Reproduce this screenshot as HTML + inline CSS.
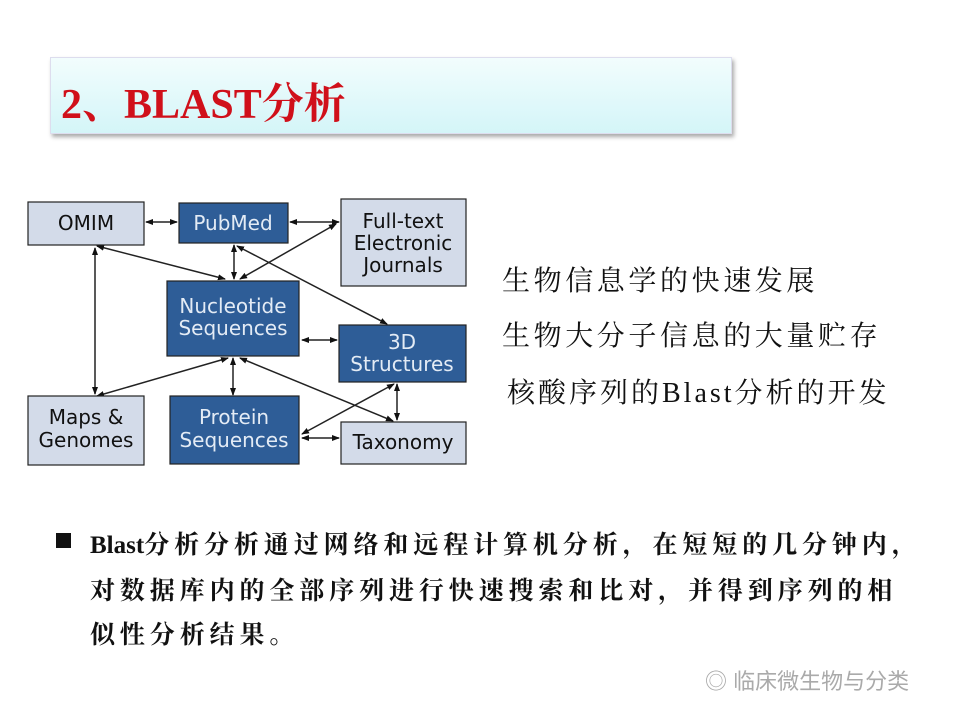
<!DOCTYPE html>
<html><head><meta charset="utf-8"><style>
body{margin:0;width:960px;height:720px;background:#fff;position:relative;overflow:hidden;font-family:"Liberation Serif","Noto Serif CJK SC",serif}
.title{position:absolute;left:50px;top:57px;width:680px;height:75px;background:linear-gradient(#f2fdfd,#d4f5f8);box-shadow:2px 3px 4px #aaa;border:1px solid #dde}
.title span{position:absolute;left:10px;top:13px;font-size:42px;font-weight:bold;color:#d0101a;white-space:nowrap}
.r{position:absolute;font-size:28px;letter-spacing:3.6px;color:#111;white-space:nowrap}
.b{position:absolute;left:90px;font-size:25px;font-weight:bold;letter-spacing:4.9px;color:#111;white-space:nowrap}
.b i{font-style:normal;letter-spacing:0}
</style></head><body>
<div class="title"><span>2、BLAST分析</span></div>
<svg style="position:absolute;left:0;top:0" width="960" height="720">
<defs><marker id="a" markerWidth="8" markerHeight="8" refX="7" refY="4" orient="auto-start-reverse" markerUnits="userSpaceOnUse"><path d="M0,1 L8,4 L0,7z" fill="#111"/></marker></defs>
<g stroke="#222" stroke-width="1.5" marker-start="url(#a)" marker-end="url(#a)">
<line x1="146" y1="222" x2="177" y2="222"/>
<line x1="290" y1="222" x2="339" y2="222"/>
<line x1="234" y1="245" x2="234" y2="279"/>
<line x1="95" y1="248" x2="95" y2="394"/>
<line x1="97" y1="246" x2="225" y2="279"/>
<line x1="240" y1="279" x2="336" y2="224"/>
<line x1="237" y1="246" x2="387" y2="324"/>
<line x1="302" y1="340" x2="337" y2="340"/>
<line x1="228" y1="358" x2="97" y2="396"/>
<line x1="233" y1="358" x2="233" y2="395"/>
<line x1="240" y1="358" x2="393" y2="421"/>
<line x1="394" y1="384" x2="302" y2="434"/>
<line x1="397" y1="384" x2="397" y2="420"/>
<line x1="302" y1="438" x2="339" y2="438"/>
</g>
<g stroke="#222" stroke-width="1.2" font-family="DejaVu Sans,sans-serif" font-size="20" text-anchor="middle">
<rect x="28" y="202" width="116" height="43" fill="#d3dbe9"/>
<text x="86" y="230" fill="#111" stroke="none">OMIM</text>
<rect x="179" y="203" width="109" height="40" fill="#2e5d97"/>
<text x="233" y="230" fill="#e3ebf5" stroke="none">PubMed</text>
<rect x="341" y="199" width="125" height="87" fill="#d3dbe9"/>
<text x="403" y="228" fill="#111" stroke="none">Full-text</text>
<text x="403" y="250" fill="#111" stroke="none">Electronic</text>
<text x="403" y="272" fill="#111" stroke="none">Journals</text>
<rect x="167" y="281" width="132" height="75" fill="#2e5d97"/>
<text x="233" y="313" fill="#e3ebf5" stroke="none">Nucleotide</text>
<text x="233" y="335" fill="#e3ebf5" stroke="none">Sequences</text>
<rect x="339" y="325" width="127" height="57" fill="#2e5d97"/>
<text x="402" y="349" fill="#e3ebf5" stroke="none">3D</text>
<text x="402" y="371" fill="#e3ebf5" stroke="none">Structures</text>
<rect x="28" y="396" width="116" height="69" fill="#d3dbe9"/>
<text x="86" y="424" fill="#111" stroke="none">Maps &amp;</text>
<text x="86" y="447" fill="#111" stroke="none">Genomes</text>
<rect x="170" y="396" width="129" height="68" fill="#2e5d97"/>
<text x="234" y="424" fill="#e3ebf5" stroke="none">Protein</text>
<text x="234" y="447" fill="#e3ebf5" stroke="none">Sequences</text>
<rect x="341" y="422" width="125" height="42" fill="#d3dbe9"/>
<text x="403" y="449" fill="#111" stroke="none">Taxonomy</text>
</g>
<rect x="56" y="533" width="15" height="15" fill="#111"/>
</svg>
<div class="r" style="left:502px;top:259px">生物信息学的快速发展</div>
<div class="r" style="left:502px;top:314px">生物大分子信息的大量贮存</div>
<div class="r" style="left:507px;top:371px;letter-spacing:3px">核酸序列的Blast分析的开发</div>
<div class="b" style="top:525px"><i>Blast</i>分析分析通过网络和远程计算机分析，在短短的几分钟内，</div>
<div class="b" style="top:571px">对数据库内的全部序列进行快速搜索和比对，并得到序列的相</div>
<div class="b" style="top:615px">似性分析结果。</div>
<div style="position:absolute;left:705px;top:664px;font-family:'Liberation Sans','Noto Sans CJK SC',sans-serif;font-size:22px;color:#aaa;white-space:nowrap">◎ 临床微生物与分类</div>
</body></html>
